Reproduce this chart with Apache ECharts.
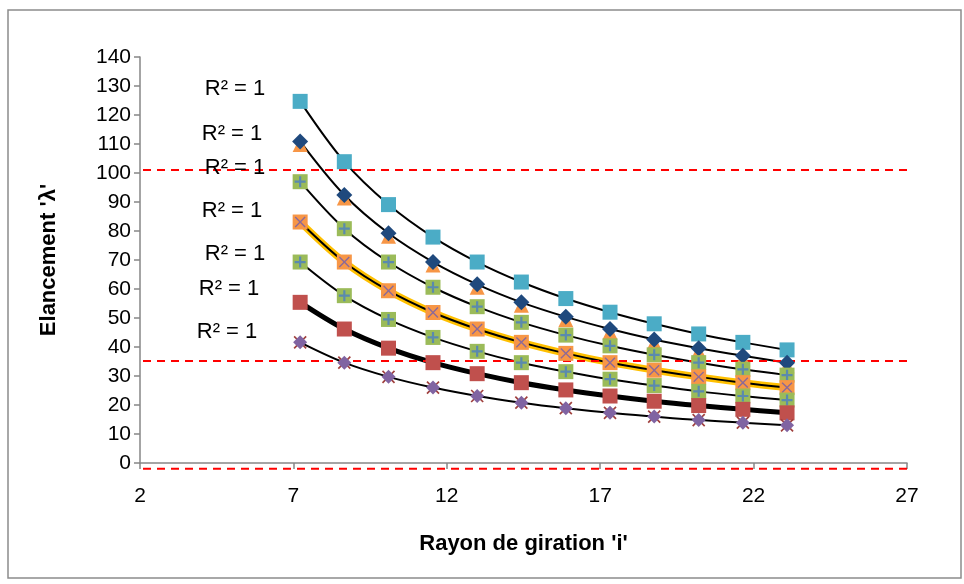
<!DOCTYPE html>
<html><head><meta charset="utf-8">
<script src="https://cdn.jsdelivr.net/npm/echarts@6/dist/echarts.min.js"></script>
<style>html,body{margin:0;padding:0;background:#fff}#c{width:964px;height:584px}</style>
</head><body><div id="c"></div>
<script>
// Rayon de giration i
const xVals = [7.22, 8.66, 10.1, 11.55, 12.99, 14.43, 15.88, 17.32, 18.76, 20.21, 21.65, 23.09];
// Elancement lambda for each series
const s900 = [124.7, 103.9, 89.1, 77.9, 69.3, 62.4, 56.7, 52.0, 48.0, 44.5, 41.6, 39.0];
const s800 = [110.9, 92.4, 79.2, 69.3, 61.6, 55.4, 50.4, 46.2, 42.6, 39.6, 37.0, 34.6];
const s700 = [97.0, 80.8, 69.3, 60.6, 53.9, 48.5, 44.1, 40.4, 37.3, 34.6, 32.3, 30.3];
const s600 = [83.1, 69.3, 59.4, 51.9, 46.2, 41.6, 37.8, 34.6, 32.0, 29.7, 27.7, 26.0];
const s500 = [69.3, 57.7, 49.5, 43.3, 38.5, 34.6, 31.5, 28.9, 26.7, 24.7, 23.1, 21.7];
const s400 = [55.4, 46.2, 39.6, 34.6, 30.8, 27.7, 25.2, 23.1, 21.3, 19.8, 18.5, 17.3];
const s300 = [41.6, 34.6, 29.7, 26.0, 23.1, 20.8, 18.9, 17.3, 16.0, 14.8, 13.9, 13.0];
// reference (dashed) levels
const refLevels = [101, 35.2, -2];
const r2Labels = ["R² = 1", "R² = 1", "R² = 1", "R² = 1", "R² = 1", "R² = 1", "R² = 1"];

const pts = ys => xVals.map((x, i) => [x, ys[i]]);
const PLUS = 'path://M4,0H6V4H10V6H6V10H4V6H0V4H4Z';
const XTHIN = 'path://M4.5,0H5.5V4.5H10V5.5H5.5V10H4.5V5.5H0V4.5H4.5Z';

function markers(ys, symbol, size, color, extra) {
  return Object.assign({
    type: 'line', data: pts(ys), xAxisIndex: 0, yAxisIndex: 0,
    lineStyle: { width: 0, opacity: 0 }, symbol: symbol, symbolSize: size,
    itemStyle: { color: color }, showSymbol: true, silent: true, animation: false
  }, extra || {});
}
function trend(ys, color, width) {
  return { type: 'line', data: pts(ys), smooth: 0.35, showSymbol: false, symbol: 'none',
    lineStyle: { color: color, width: width }, silent: true, animation: false };
}

const series = [
  markers(s900, 'rect', 15, '#4BACC6'),
  markers(s800, 'triangle', 15, '#F79646', { symbolOffset: [0, 3] }),
  markers(s800, 'diamond', 16, '#1F497D'),
  markers(s700, 'rect', 15, '#9BBB59'),
  markers(s700, PLUS, 11, '#4F81BD', { itemStyle: { color: '#4F81BD', opacity: 0.85 } }),
  markers(s600, 'rect', 15, '#F79646'),
  markers(s600, XTHIN, 14, '#8064A2', { symbolRotate: 45, itemStyle: { color: '#8064A2', opacity: 0.9 } }),
  markers(s500, 'rect', 15, '#9BBB59'),
  markers(s500, PLUS, 11, '#4F81BD', { itemStyle: { color: '#4F81BD', opacity: 0.85 } }),
  markers(s400, 'rect', 15, '#C0504D'),
  markers(s300, XTHIN, 17, '#A0403D', { symbolRotate: 45 }),
  markers(s300, 'diamond', 14, '#8064A2'),
  trend(s900, '#000', 2),
  trend(s800, '#000', 2),
  trend(s700, '#000', 2),
  trend(s600, '#FFC000', 7),
  trend(s600, '#000', 2),
  trend(s500, '#000', 2),
  trend(s400, '#000', 5),
  trend(s300, '#000', 2)
];
refLevels.forEach(v => series.push({
  type: 'line', xAxisIndex: 1, yAxisIndex: 1, data: [[0, v], [1, v]], showSymbol: false, symbol: 'none',
  lineStyle: { color: '#FF0000', width: 2, type: [8, 6] }, silent: true, animation: false
}));

const r2Pos = [[235, 89], [232, 134], [235, 168], [232, 211], [235, 254], [229, 289], [227, 332]];
const graphic = [{ type: 'rect', shape: { x: 8, y: 10, width: 953, height: 568 },
  style: { fill: 'none', stroke: '#8C8C8C', lineWidth: 1.5 }, silent: true }];
r2Labels.forEach((t, i) => graphic.push({ type: 'text', x: r2Pos[i][0], y: r2Pos[i][1],
  style: { text: t, font: '22px "Liberation Sans", Arial, sans-serif', fill: '#000', align: 'center', verticalAlign: 'middle' }, z: 100 }));

const chart = echarts.init(document.getElementById('c'), null, { renderer: 'canvas' });
chart.setOption({
  animation: false,
  backgroundColor: '#fff',
  grid: [
    { left: 140, top: 57, width: 767, height: 406 },
    { left: 143, top: 57, width: 766, height: 435 }
  ],
  xAxis: [
    { type: 'value', gridIndex: 0, min: 2, max: 27, interval: 5,
      name: "Rayon de giration 'i'", nameLocation: 'middle', nameGap: 70,
      nameTextStyle: { fontFamily: 'Liberation Sans', fontWeight: 'bold', fontSize: 22, color: '#000' },
      axisLine: { lineStyle: { color: '#868686', width: 1.5 } },
      axisTick: { show: true, inside: false, length: 6, lineStyle: { color: '#868686', width: 1.5 } },
      axisLabel: { fontFamily: 'Liberation Sans', fontSize: 21, color: '#000', margin: 23 },
      splitLine: { show: false } },
    { type: 'value', gridIndex: 1, min: 0, max: 1, show: false }
  ],
  yAxis: [
    { type: 'value', gridIndex: 0, min: 0, max: 140, interval: 10,
      name: "Elancement 'λ'", nameLocation: 'middle', nameGap: 80, nameRotate: 90,
      nameTextStyle: { fontFamily: 'Liberation Sans', fontWeight: 'bold', fontSize: 22, color: '#000' },
      axisLine: { show: true, lineStyle: { color: '#868686', width: 1.5 } },
      axisTick: { show: true, inside: false, length: 6, lineStyle: { color: '#868686', width: 1.5 } },
      axisLabel: { fontFamily: 'Liberation Sans', fontSize: 21, color: '#000', margin: 9 },
      splitLine: { show: false } },
    { type: 'value', gridIndex: 1, min: -10, max: 140, show: false }
  ],
  graphic: graphic,
  series: series
});
</script></body></html>
